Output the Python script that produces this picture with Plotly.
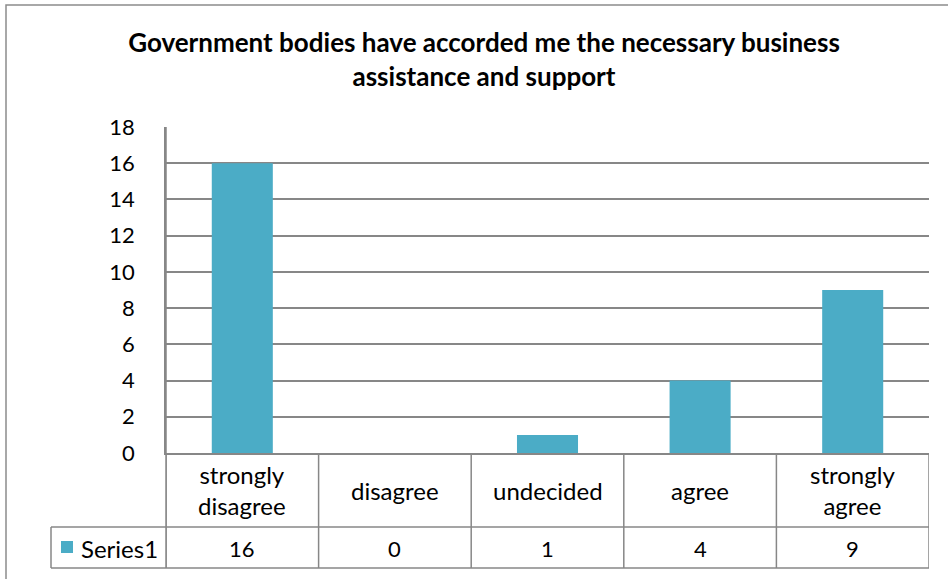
import plotly.graph_objects as go

categories = ["strongly disagree", "disagree", "undecided", "agree", "strongly agree"]
category_labels = ["strongly<br>disagree", "disagree", "undecided", "agree", "strongly<br>agree"]
series_name = "Series1"
values = [16, 0, 1, 4, 9]
y_ticks = [0, 2, 4, 6, 8, 10, 12, 14, 16, 18]

BAR = "#4BACC6"
GRID = "#878787"
FONT = "Lato, Carlito, 'Open Sans', sans-serif"

W, H = 948, 579
L, R, T, B = 166, 929, 127, 453
pw, ph = R - L, B - T

def px_x(x):
    return (x - L) / pw

def px_y(y):
    return (B - y) / ph

fig = go.Figure()
fig.add_trace(go.Bar(
    x=categories, y=values, name=series_name,
    marker=dict(color=BAR, line=dict(width=0)),
    width=0.4, showlegend=False,
))

shapes = []
n = len(categories)
row1_bot = px_y(527)
row2_bot = px_y(568)
left_cell = px_x(51)
line = dict(color=GRID, width=1.5)

shapes.append(dict(type="line", xref="paper", yref="paper", x0=left_cell, x1=1, y0=row1_bot, y1=row1_bot, line=line))
shapes.append(dict(type="line", xref="paper", yref="paper", x0=left_cell, x1=1, y0=row2_bot, y1=row2_bot, line=line))
shapes.append(dict(type="line", xref="paper", yref="paper", x0=left_cell, x1=left_cell, y0=row1_bot, y1=row2_bot, line=line))
for i in range(n + 1):
    xb = i - 0.5
    shapes.append(dict(type="line", xref="x", yref="paper", x0=xb, x1=xb, y0=row2_bot, y1=0, line=line))
shapes.append(dict(type="line", xref="paper", yref="paper", x0=0, x1=0, y0=row2_bot, y1=1, line=line))
shapes.append(dict(type="rect", xref="paper", yref="paper",
                   x0=px_x(61), x1=px_x(73), y0=px_y(553), y1=px_y(541),
                   fillcolor=BAR, line=dict(width=0)))
shapes.append(dict(type="rect", xref="paper", yref="paper",
                   x0=px_x(6), x1=px_x(990), y0=px_y(620), y1=px_y(5),
                   line=dict(color="#8C8C8C", width=1.5), fillcolor="rgba(0,0,0,0)", layer="below"))

annotations = []
for c, lab, v in zip(categories, category_labels, values):
    annotations.append(dict(x=c, xref="x", y=px_y(490), yref="paper", text=lab,
                            showarrow=False, font=dict(size=24, color="#000"), align="center",
                            xanchor="center", yanchor="middle"))
    annotations.append(dict(x=c, xref="x", y=px_y(548), yref="paper", text=str(v),
                            showarrow=False, font=dict(size=22, color="#000"),
                            xanchor="center", yanchor="middle"))
annotations.append(dict(x=px_x(79), xref="paper", y=px_y(548), yref="paper", text=series_name,
                        showarrow=False, font=dict(size=24, color="#000"),
                        xanchor="left", yanchor="middle"))

fig.update_layout(
    width=W, height=H,
    margin=dict(l=L, r=W - R, t=T, b=H - B, pad=0),
    paper_bgcolor="white", plot_bgcolor="white",
    font=dict(family=FONT, color="#000"),
    title=dict(text="<b>Government bodies have accorded me the necessary business<br>assistance and support</b>",
               x=484 / W, xanchor="center", xref="container",
               y=1 - 52 / H, yanchor="top", yref="container",
               font=dict(size=26, color="#000")),
    bargap=0.6,
    xaxis=dict(range=[-0.5, n - 0.5], showticklabels=False, showgrid=False,
               showline=True, linecolor=GRID, linewidth=1.5, zeroline=False, fixedrange=True),
    yaxis=dict(range=[0, 18], tickvals=y_ticks, showgrid=True, gridcolor=GRID, gridwidth=1.5,
               showline=True, linecolor=GRID, linewidth=1.5, zeroline=False,
               tickfont=dict(size=22, color="#000"), ticks="", ticklabelstandoff=25),
    shapes=shapes, annotations=annotations,
)

fig.write_html("out.html", config={"displayModeBar": False},
               post_script="document.body.style.margin='0';")
